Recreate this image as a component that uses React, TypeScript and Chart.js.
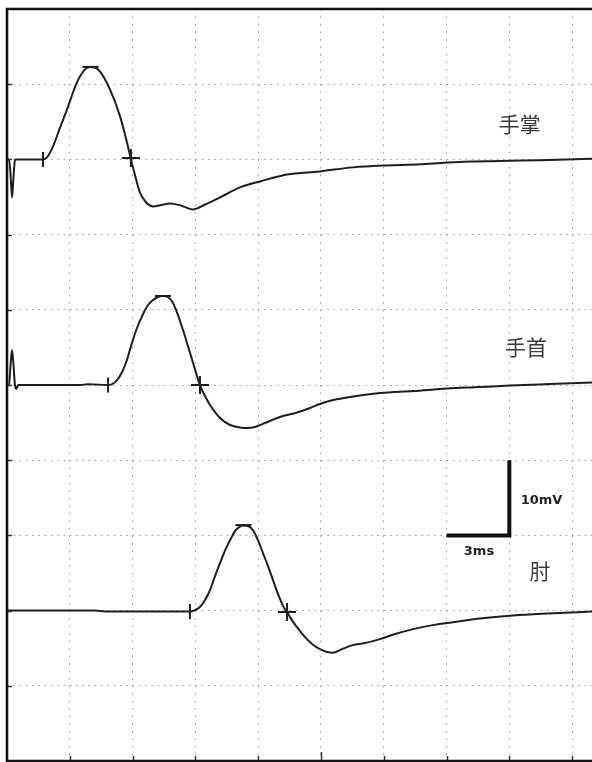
import React, { useEffect, useRef } from "react";
import { Chart, registerables } from "chart.js";

Chart.register(...registerables);

// ---- axes (ms / mV) ----
const X_MAX = 27.95;
const Y_MAX = 100;
const X_STEP = 3;
const Y_STEP = 10;
const MAJOR_X_TICK = 15;

// ---- baselines of each trace (mV on the plotted axis) ----
const PALM_BASE = 80;
const WRIST_BASE = 50;
const ELBOW_BASE = 20;

// ---- 手掌 trace ----
const palmT = [0, 0.1, 0.17, 0.24, 0.31, 0.38, 0.43, 1.72, 1.91, 2.2, 2.53, 2.87, 3.34, 3.73, 3.97, 4.2, 4.44, 4.92, 5.4, 5.78, 5.92, 6.07, 6.35, 6.64, 6.98, 7.31, 7.79, 8.27, 8.89, 9.46, 10.18, 11.13, 12.09, 13.38, 14.95, 16.53, 18.16, 19.73, 21.02, 23.55, 25.47, 27.95];
const palmV = [0, 0, -2.0, -5.05, -2.4, -0.1, 0, 0, 0.27, 1.73, 4.19, 6.65, 10.24, 11.97, 12.3, 12.23, 11.7, 9.3, 5.72, 1.73, 0, -1.6, -4.39, -5.7, -6.25, -6.1, -5.85, -6.1, -6.65, -6.0, -5.05, -3.72, -2.93, -2.0, -1.6, -1.06, -0.8, -0.66, -0.4, -0.2, -0.1, 0.07];

// ---- 手首 trace ----
const wristT = [0, 0.1, 0.17, 0.24, 0.31, 0.38, 0.45, 0.53, 3.49, 3.87, 4.83, 5.02, 5.26, 5.5, 5.73, 5.97, 6.21, 6.5, 6.74, 6.98, 7.21, 7.45, 7.69, 7.93, 8.17, 8.41, 8.89, 9.22, 9.46, 9.7, 10.18, 10.66, 11.13, 11.47, 11.85, 12.33, 13.04, 13.86, 14.48, 14.95, 15.58, 16.24, 17.82, 19.4, 21.02, 22.6, 24.03, 25.94, 27.95];
const wristV = [0, 0, 2.66, 4.65, 2.66, 0, -0.5, 0, 0, 0.1, 0, 0.13, 0.66, 1.73, 3.32, 5.59, 7.58, 9.44, 10.64, 11.3, 11.7, 11.84, 11.7, 10.9, 9.3, 7.31, 2.93, 0, -1.46, -2.66, -4.39, -5.32, -5.65, -5.72, -5.59, -5.05, -4.26, -3.66, -3.06, -2.53, -2.0, -1.66, -1.06, -0.8, -0.47, -0.27, -0.07, 0.13, 0.33];

// ---- 肘 trace ----
const elbowT = [0, 4.2, 4.68, 8.74, 8.98, 9.22, 9.46, 9.7, 9.94, 10.18, 10.42, 10.66, 10.89, 11.09, 11.28, 11.51, 11.75, 11.99, 12.23, 12.47, 12.71, 12.95, 13.19, 13.38, 13.62, 14.0, 14.33, 14.62, 14.95, 15.29, 15.58, 15.91, 16.24, 16.53, 17.1, 17.82, 18.54, 19.4, 20.21, 21.02, 22.6, 24.18, 25.8, 27.95];
const elbowV = [0, 0, -0.13, -0.13, 0.07, 0.47, 1.4, 2.73, 4.59, 6.32, 8.0, 9.37, 10.57, 11.1, 11.3, 11.24, 10.7, 9.37, 7.65, 5.92, 4.06, 2.2, 0.6, -0.2, -1.3, -2.73, -3.8, -4.55, -5.12, -5.5, -5.59, -5.25, -4.85, -4.59, -4.32, -3.79, -3.12, -2.46, -2.0, -1.66, -1.06, -0.66, -0.4, -0.13];

// ---- markers: onset, peak, crossing ----
const palmMarkT = [1.72, 3.99, 5.92];
const palmMarkV = [0, 12.3, 0.2];
const wristMarkT = [4.83, 7.45, 9.22];
const wristMarkV = [0, 11.84, 0];
const elbowMarkT = [8.74, 11.3, 13.38];
const elbowMarkV = [-0.13, 11.37, -0.2];

// ---- calibration bar: 3 ms x 10 mV ----
const scaleBarT = [21, 24, 24];
const scaleBarV = [30, 30, 40];

// ---- text labels (data coordinates) ----
const traceLabels = ["手掌", "手首", "肘"];
const traceLabelT = [24.5, 24.8, 25.47];
const traceLabelV = [84.7, 55.05, 25.27];
const calibLabels = ["10mV", "3ms"];
const calibLabelT = [25.54, 22.55];
const calibLabelV = [34.57, 27.8];

const INK = "#1e1e1e";

const pts = (t: number[], v: number[], base: number) =>
  t.map((x, i) => ({ x, y: v[i] + base }));

const traceDs = (t: number[], v: number[], base: number) => ({
  type: "line" as const,
  data: pts(t, v, base),
  borderColor: INK,
  borderWidth: 2,
  pointRadius: 0,
  cubicInterpolationMode: "monotone" as const,
  fill: false,
});

const markDs = (t: number[], v: number[], base: number) => ({
  type: "scatter" as const,
  data: pts(t, v, base),
  showLine: false,
  pointStyle: ["line", "line", "cross"],
  rotation: [90, 0, 0],
  pointRadius: [7.5, 8, 9],
  pointBorderWidth: 2,
  pointBorderColor: INK,
  pointBackgroundColor: INK,
});

const framePlugin = {
  id: "ncsFrame",
  afterDraw(chart: any) {
    const { ctx, chartArea: a, scales } = chart;
    const x = scales.x;
    const y = scales.y;
    ctx.save();
    // inward tick marks
    ctx.strokeStyle = "#333";
    ctx.lineWidth = 1.5;
    y.ticks.forEach((tk: any) => {
      if (tk.value <= 0 || tk.value >= Y_MAX) return;
      const py = Math.round(y.getPixelForValue(tk.value)) + 0.5;
      ctx.beginPath();
      ctx.moveTo(a.left, py);
      ctx.lineTo(a.left + 5, py);
      ctx.stroke();
    });
    x.ticks.forEach((tk: any) => {
      if (tk.value <= 0) return;
      const px = Math.round(x.getPixelForValue(tk.value)) + 0.5;
      const len = tk.value === MAJOR_X_TICK ? 9 : 5;
      ctx.beginPath();
      ctx.moveTo(px, a.bottom);
      ctx.lineTo(px, a.bottom - len);
      ctx.stroke();
    });
    // frame
    ctx.strokeStyle = "#141414";
    ctx.lineWidth = 2.6;
    ctx.beginPath();
    ctx.moveTo(a.right + 5, a.top);
    ctx.lineTo(a.left, a.top);
    ctx.lineTo(a.left, a.bottom);
    ctx.lineTo(a.right + 5, a.bottom);
    ctx.stroke();
    // labels
    ctx.textAlign = "center";
    ctx.textBaseline = "middle";
    ctx.fillStyle = "#3a3a3a";
    ctx.font = '21px "Noto Sans CJK JP", "Noto Sans CJK SC", sans-serif';
    traceLabels.forEach((s, i) => {
      ctx.fillText(s, x.getPixelForValue(traceLabelT[i]), y.getPixelForValue(traceLabelV[i]));
    });
    ctx.fillStyle = "#222";
    ctx.font = 'bold 13px "DejaVu Sans", Verdana, sans-serif';
    calibLabels.forEach((s, i) => {
      ctx.fillText(s, x.getPixelForValue(calibLabelT[i]), y.getPixelForValue(calibLabelV[i]));
    });
    ctx.restore();
  },
};

export default function App() {
  const ref = useRef<HTMLCanvasElement | null>(null);

  useEffect(() => {
    if (!ref.current) return;
    const chart = new Chart(ref.current, {
      type: "line",
      data: {
        datasets: [
          traceDs(palmT, palmV, PALM_BASE),
          traceDs(wristT, wristV, WRIST_BASE),
          traceDs(elbowT, elbowV, ELBOW_BASE),
          markDs(palmMarkT, palmMarkV, PALM_BASE),
          markDs(wristMarkT, wristMarkV, WRIST_BASE),
          markDs(elbowMarkT, elbowMarkV, ELBOW_BASE),
          {
            type: "line",
            data: scaleBarT.map((t, i) => ({ x: t, y: scaleBarV[i] })),
            borderColor: "#111",
            borderWidth: 4,
            borderJoinStyle: "miter",
            borderCapStyle: "butt",
            pointRadius: 0,
            tension: 0,
            fill: false,
          },
        ] as any,
      },
      options: {
        animation: false,
        responsive: false,
        devicePixelRatio: 1,
        layout: { autoPadding: false, padding: { left: 7, top: 9, right: 0, bottom: 1 } },
        plugins: { legend: { display: false }, tooltip: { enabled: false } },
        scales: {
          x: {
            type: "linear",
            min: 0,
            max: X_MAX,
            ticks: { display: false, stepSize: X_STEP, includeBounds: false },
            grid: { color: "#9a9a9a", lineWidth: 1, drawTicks: false },
            border: { display: false, dash: [1.5, 6.02] },
            afterFit: (s: any) => { s.height = 0; },
          },
          y: {
            type: "linear",
            min: 0,
            max: Y_MAX,
            ticks: { display: false, stepSize: Y_STEP, includeBounds: false },
            grid: { color: "#9a9a9a", lineWidth: 1, drawTicks: false },
            border: { display: false, dash: [1.5, 4.78] },
            afterFit: (s: any) => { s.width = 0; },
          },
        },
      } as any,
      plugins: [framePlugin],
    });
    return () => chart.destroy();
  }, []);

  return (
    <div style={{ position: "absolute", left: 0, top: 0, width: 592, height: 762, background: "#fff" }}>
      <canvas ref={ref} width={592} height={762} style={{ display: "block" }} />
    </div>
  );
}
